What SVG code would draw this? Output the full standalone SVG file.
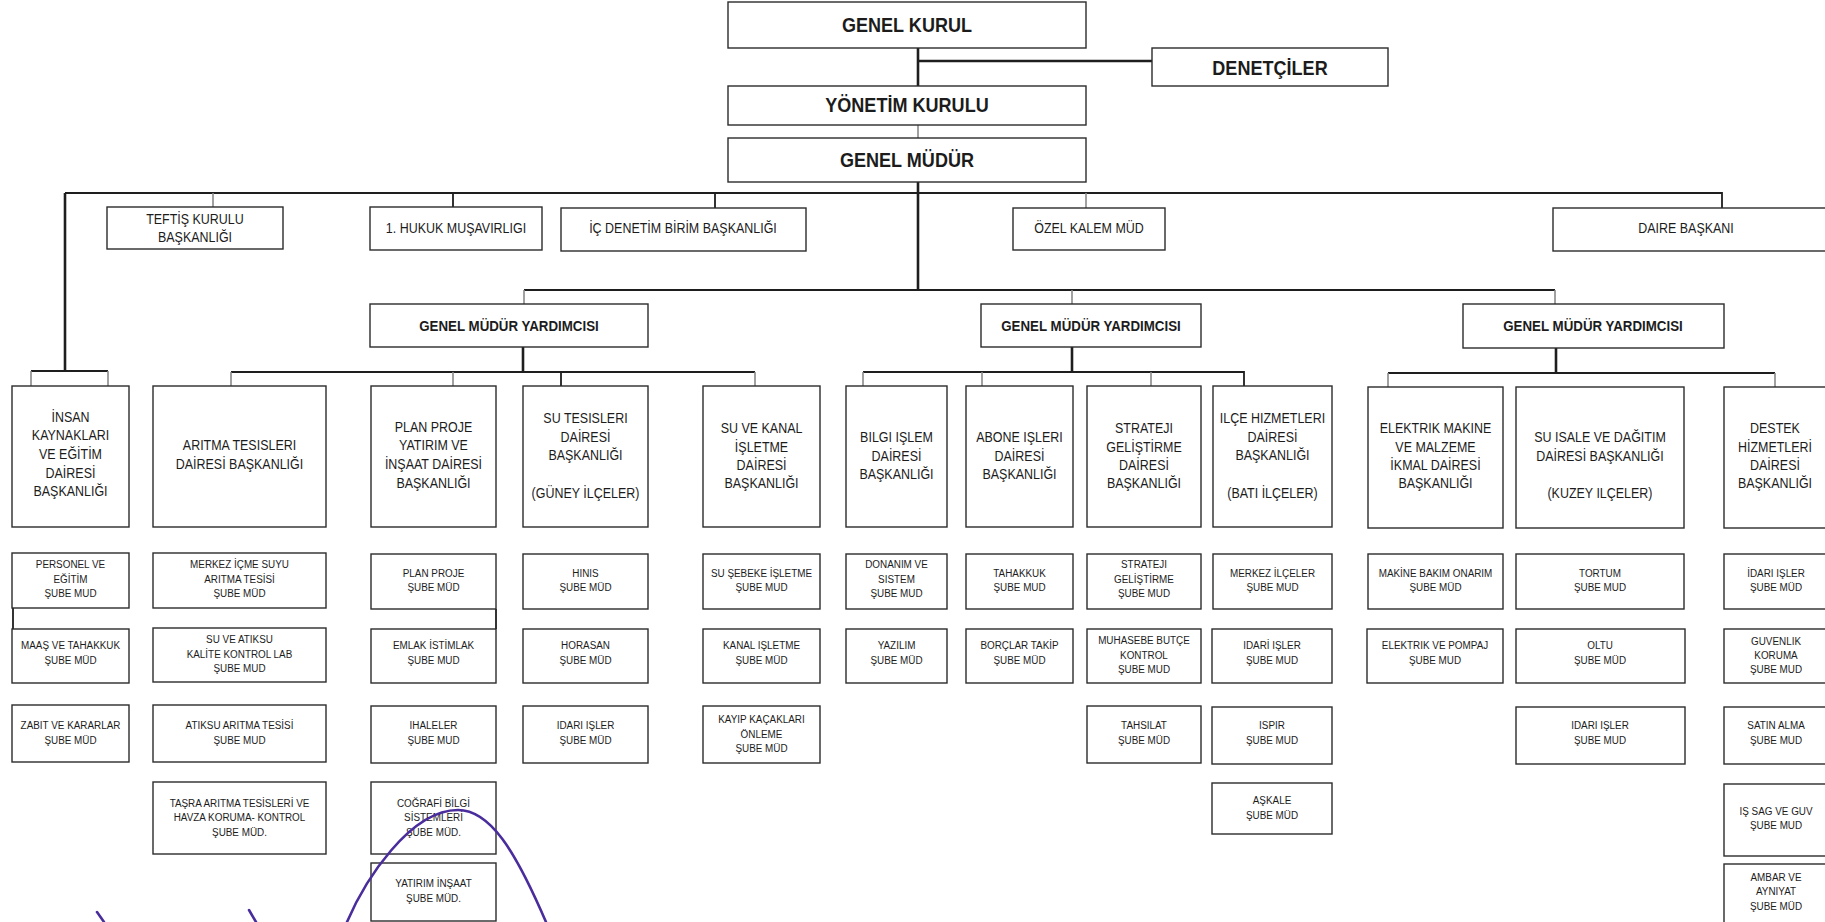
<svg xmlns="http://www.w3.org/2000/svg" width="1825" height="922" viewBox="0 0 1825 922">
<style>
.box{fill:#fff;stroke:#2b2b2b;stroke-width:1.4}
.ln{stroke:#1e1e1e;stroke-width:1.8;fill:none}
.lk{stroke:#1e1e1e;stroke-width:2.6;fill:none}
.tk{stroke:#8a8a8a;stroke-width:1.6;fill:none}
.sig{stroke:#4a2d9c;stroke-width:2.6;fill:none;stroke-linecap:round}
text{font-family:"Liberation Sans",Arial,sans-serif;fill:#1c1c1c;text-anchor:middle;transform-box:fill-box;transform-origin:center;transform:scaleX(0.86)}
.h1{font-size:21px;font-weight:bold}
.h2{font-size:14.5px}
.gm{font-size:15.5px;font-weight:bold}
.d{font-size:14.5px}
.s{font-size:11.5px}
</style>

<g id="connectors">
  <path class="lk" d="M918 48V86"/>
  <path class="lk" d="M918 61H1152"/>
  <path class="tk" d="M918 125V138"/>
  <path class="lk" d="M918 182V290"/>
  <path class="ln" d="M65 193H1722V208"/>
  <path class="lk" d="M65 193V371"/>
  <path class="ln" d="M31 371H108"/>
  <path class="tk" d="M31 371V386M108 371V386"/>
  <path class="tk" d="M213 193V207M1086 193V208"/>
  <path class="ln" d="M453 193V207M715 193V208"/>
  <path class="ln" d="M524 290H1555"/>
  <path class="tk" d="M524 290V304M1072 290V304M1555 290V304"/>
  <path class="lk" d="M523 347V372"/>
  <path class="ln" d="M231 372H755"/>
  <path class="tk" d="M231 372V386M453 372V386M755 372V386"/>
  <path class="ln" d="M561 372V386"/>
  <path class="lk" d="M1072 347V372"/>
  <path class="ln" d="M863 372H1244V386"/>
  <path class="tk" d="M863 372V386M982 372V386M1151 372V386"/>
  <path class="lk" d="M1556 348V373"/>
  <path class="ln" d="M1388 373H1775"/>
  <path class="tk" d="M1388 373V387M1775 373V387"/>
  <path class="ln" d="M13 608V629"/>
  <path class="ln" d="M496 609V629"/>
</g>

<g id="genel-kurul"><rect class="box" x="728" y="2" width="358" height="46"/><text class="h1" x="907" y="32">GENEL KURUL</text></g>
<g id="denetciler"><rect class="box" x="1152" y="48" width="236" height="38"/><text class="h1" x="1270" y="75">DENETÇİLER</text></g>
<g id="yonetim-kurulu"><rect class="box" x="728" y="86" width="358" height="39"/><text class="h1" x="907" y="112">YÖNETİM KURULU</text></g>
<g id="genel-mudur"><rect class="box" x="728" y="138" width="358" height="44"/><text class="h1" x="907" y="167">GENEL MÜDÜR</text></g>

<g id="teftis"><rect class="box" x="107" y="207" width="176" height="42"/><text class="h2" x="195"><tspan x="195" y="224">TEFTİŞ KURULU</tspan><tspan x="195" y="242">BAŞKANLIĞI</tspan></text></g>
<g id="hukuk"><rect class="box" x="370" y="207" width="172" height="43"/><text class="h2" x="456" y="233">1. HUKUK MUŞAVIRLIGI</text></g>
<g id="ic-denetim"><rect class="box" x="561" y="208" width="245" height="43"/><text class="h2" x="683" y="233">İÇ DENETİM BİRİM BAŞKANLIĞI</text></g>
<g id="ozel-kalem"><rect class="box" x="1013" y="208" width="152" height="42"/><text class="h2" x="1089" y="233">ÖZEL KALEM MÜD</text></g>
<g id="daire-baskani"><rect class="box" x="1553" y="208" width="280" height="43"/><text class="h2" x="1686" y="233">DAIRE BAŞKANI</text></g>

<g id="gmy1"><rect class="box" x="370" y="304" width="278" height="43"/><text class="gm" x="509" y="331">GENEL MÜDÜR YARDIMCISI</text></g>
<g id="gmy2"><rect class="box" x="981" y="304" width="220" height="43"/><text class="gm" x="1091" y="331">GENEL MÜDÜR YARDIMCISI</text></g>
<g id="gmy3"><rect class="box" x="1463" y="304" width="261" height="44"/><text class="gm" x="1593" y="331">GENEL MÜDÜR YARDIMCISI</text></g>

<g id="insan"><rect class="box" x="12" y="386" width="117" height="141"/><text class="d"><tspan x="70.5" y="422">İNSAN</tspan><tspan x="70.5" y="440">KAYNAKLARI</tspan><tspan x="70.5" y="459">VE EĞİTİM</tspan><tspan x="70.5" y="478">DAİRESİ</tspan><tspan x="70.5" y="496">BAŞKANLIĞI</tspan></text></g>
<g id="aritma"><rect class="box" x="153" y="386" width="173" height="141"/><text class="d"><tspan x="239.5" y="450">ARITMA TESISLERI</tspan><tspan x="239.5" y="469">DAİRESİ BAŞKANLIĞI</tspan></text></g>
<g id="plan-proje"><rect class="box" x="371" y="386" width="125" height="141"/><text class="d"><tspan x="433.5" y="432">PLAN PROJE</tspan><tspan x="433.5" y="450">YATIRIM VE</tspan><tspan x="433.5" y="469">İNŞAAT DAİRESİ</tspan><tspan x="433.5" y="488">BAŞKANLIĞI</tspan></text></g>
<g id="su-tesisleri"><rect class="box" x="523" y="386" width="125" height="141"/><text class="d"><tspan x="585.5" y="423">SU TESISLERI</tspan><tspan x="585.5" y="442">DAİRESİ</tspan><tspan x="585.5" y="460">BAŞKANLIĞI</tspan><tspan x="585.5" y="498">(GÜNEY İLÇELER)</tspan></text></g>
<g id="su-kanal"><rect class="box" x="703" y="386" width="117" height="141"/><text class="d"><tspan x="761.5" y="433">SU VE KANAL</tspan><tspan x="761.5" y="452">İŞLETME</tspan><tspan x="761.5" y="470">DAİRESİ</tspan><tspan x="761.5" y="488">BAŞKANLIĞI</tspan></text></g>
<g id="bilgi-islem"><rect class="box" x="846" y="386" width="101" height="141"/><text class="d"><tspan x="896.5" y="442">BILGI IŞLEM</tspan><tspan x="896.5" y="461">DAİRESİ</tspan><tspan x="896.5" y="479">BAŞKANLIĞI</tspan></text></g>
<g id="abone"><rect class="box" x="966" y="386" width="107" height="141"/><text class="d"><tspan x="1019.5" y="442">ABONE IŞLERI</tspan><tspan x="1019.5" y="461">DAİRESİ</tspan><tspan x="1019.5" y="479">BAŞKANLIĞI</tspan></text></g>
<g id="strateji"><rect class="box" x="1087" y="386" width="114" height="141"/><text class="d"><tspan x="1144" y="433">STRATEJI</tspan><tspan x="1144" y="452">GELİŞTİRME</tspan><tspan x="1144" y="470">DAİRESİ</tspan><tspan x="1144" y="488">BAŞKANLIĞI</tspan></text></g>
<g id="ilce"><rect class="box" x="1213" y="386" width="119" height="141"/><text class="d"><tspan x="1272.5" y="423">ILÇE HIZMETLERI</tspan><tspan x="1272.5" y="442">DAİRESİ</tspan><tspan x="1272.5" y="460">BAŞKANLIĞI</tspan><tspan x="1272.5" y="498">(BATI İLÇELER)</tspan></text></g>
<g id="elektrik"><rect class="box" x="1368" y="387" width="135" height="141"/><text class="d"><tspan x="1435.5" y="433">ELEKTRIK MAKINE</tspan><tspan x="1435.5" y="452">VE MALZEME</tspan><tspan x="1435.5" y="470">İKMAL  DAİRESİ</tspan><tspan x="1435.5" y="488">BAŞKANLIĞI</tspan></text></g>
<g id="su-isale"><rect class="box" x="1516" y="387" width="168" height="141"/><text class="d"><tspan x="1600" y="442">SU ISALE VE DAĞITIM</tspan><tspan x="1600" y="461">DAİRESİ BAŞKANLIĞI</tspan><tspan x="1600" y="498">(KUZEY ILÇELER)</tspan></text></g>
<g id="destek"><rect class="box" x="1724" y="387" width="106" height="141"/><text class="d"><tspan x="1775" y="433">DESTEK</tspan><tspan x="1775" y="452">HİZMETLERİ</tspan><tspan x="1775" y="470">DAİRESİ</tspan><tspan x="1775" y="488">BAŞKANLIĞI</tspan></text></g>

<g id="personel"><rect class="box" x="12" y="553" width="117" height="55"/><text class="s"><tspan x="70.5" y="568">PERSONEL VE</tspan><tspan x="70.5" y="583">EĞİTİM</tspan><tspan x="70.5" y="597">ŞUBE MUD</tspan></text></g>
<g id="maas"><rect class="box" x="12" y="629" width="117" height="54"/><text class="s"><tspan x="70.5" y="649">MAAŞ VE TAHAKKUK</tspan><tspan x="70.5" y="664">ŞUBE MÜD</tspan></text></g>
<g id="zabit"><rect class="box" x="12" y="705" width="117" height="57"/><text class="s"><tspan x="70.5" y="729">ZABIT VE KARARLAR</tspan><tspan x="70.5" y="744">ŞUBE MÜD</tspan></text></g>

<g id="merkez-icme"><rect class="box" x="153" y="553" width="173" height="55"/><text class="s"><tspan x="239.5" y="568">MERKEZ İÇME SUYU</tspan><tspan x="239.5" y="583">ARITMA TESİSİ</tspan><tspan x="239.5" y="597">ŞUBE MÜD</tspan></text></g>
<g id="kalite"><rect class="box" x="153" y="628" width="173" height="54"/><text class="s"><tspan x="239.5" y="643">SU VE ATIKSU</tspan><tspan x="239.5" y="658">KALİTE KONTROL LAB</tspan><tspan x="239.5" y="672">ŞUBE MUD</tspan></text></g>
<g id="atiksu"><rect class="box" x="153" y="705" width="173" height="57"/><text class="s"><tspan x="239.5" y="729">ATIKSU ARITMA TESİSİ</tspan><tspan x="239.5" y="744">ŞUBE  MUD</tspan></text></g>
<g id="tasra"><rect class="box" x="153" y="782" width="173" height="72"/><text class="s"><tspan x="239.5" y="807">TAŞRA  ARITMA TESİSLERİ VE</tspan><tspan x="239.5" y="821">HAVZA KORUMA- KONTROL</tspan><tspan x="239.5" y="836">ŞUBE MÜD.</tspan></text></g>

<g id="plan-proje-sube"><rect class="box" x="371" y="554" width="125" height="55"/><text class="s"><tspan x="433.5" y="577">PLAN PROJE</tspan><tspan x="433.5" y="591">ŞUBE MÜD</tspan></text></g>
<g id="emlak"><rect class="box" x="371" y="629" width="125" height="54"/><text class="s"><tspan x="433.5" y="649">EMLAK İSTİMLAK</tspan><tspan x="433.5" y="664">ŞUBE MUD</tspan></text></g>
<g id="ihaleler"><rect class="box" x="371" y="706" width="125" height="57"/><text class="s"><tspan x="433.5" y="729">IHALELER</tspan><tspan x="433.5" y="744">ŞUBE MUD</tspan></text></g>
<g id="cografi"><rect class="box" x="371" y="782" width="125" height="72"/><text class="s"><tspan x="433.5" y="807">COĞRAFİ BİLGİ</tspan><tspan x="433.5" y="821">SİSTEMLERİ</tspan><tspan x="433.5" y="836">ŞUBE MÜD.</tspan></text></g>
<g id="yatirim"><rect class="box" x="371" y="863" width="125" height="58"/><text class="s"><tspan x="433.5" y="887">YATIRIM İNŞAAT</tspan><tspan x="433.5" y="902">ŞUBE MÜD.</tspan></text></g>

<g id="hinis"><rect class="box" x="523" y="554" width="125" height="55"/><text class="s"><tspan x="585.5" y="577">HINIS</tspan><tspan x="585.5" y="591">ŞUBE MÜD</tspan></text></g>
<g id="horasan"><rect class="box" x="523" y="629" width="125" height="54"/><text class="s"><tspan x="585.5" y="649">HORASAN</tspan><tspan x="585.5" y="664">ŞUBE MÜD</tspan></text></g>
<g id="idari-su-tes"><rect class="box" x="523" y="706" width="125" height="57"/><text class="s"><tspan x="585.5" y="729">IDARI IŞLER</tspan><tspan x="585.5" y="744">ŞUBE MÜD</tspan></text></g>

<g id="su-sebeke"><rect class="box" x="703" y="554" width="117" height="55"/><text class="s"><tspan x="761.5" y="577">SU ŞEBEKE İŞLETME</tspan><tspan x="761.5" y="591">ŞUBE MUD</tspan></text></g>
<g id="kanal"><rect class="box" x="703" y="629" width="117" height="54"/><text class="s"><tspan x="761.5" y="649">KANAL IŞLETME</tspan><tspan x="761.5" y="664">ŞUBE  MÜD</tspan></text></g>
<g id="kayip"><rect class="box" x="703" y="706" width="117" height="57"/><text class="s"><tspan x="761.5" y="723">KAYIP KAÇAKLARI</tspan><tspan x="761.5" y="738">ÖNLEME</tspan><tspan x="761.5" y="752">ŞUBE MÜD</tspan></text></g>

<g id="donanim"><rect class="box" x="846" y="554" width="101" height="55"/><text class="s"><tspan x="896.5" y="568">DONANIM VE</tspan><tspan x="896.5" y="583">SISTEM</tspan><tspan x="896.5" y="597">ŞUBE MUD</tspan></text></g>
<g id="yazilim"><rect class="box" x="846" y="629" width="101" height="54"/><text class="s"><tspan x="896.5" y="649">YAZILIM</tspan><tspan x="896.5" y="664">ŞUBE MÜD</tspan></text></g>

<g id="tahakkuk"><rect class="box" x="966" y="554" width="107" height="55"/><text class="s"><tspan x="1019.5" y="577">TAHAKKUK</tspan><tspan x="1019.5" y="591">ŞUBE MUD</tspan></text></g>
<g id="borclar"><rect class="box" x="966" y="629" width="107" height="54"/><text class="s"><tspan x="1019.5" y="649">BORÇLAR TAKİP</tspan><tspan x="1019.5" y="664">ŞUBE MÜD</tspan></text></g>

<g id="strateji-sube"><rect class="box" x="1087" y="554" width="114" height="55"/><text class="s"><tspan x="1144" y="568">STRATEJI</tspan><tspan x="1144" y="583">GELİŞTİRME</tspan><tspan x="1144" y="597">ŞUBE MUD</tspan></text></g>
<g id="muhasebe"><rect class="box" x="1087" y="629" width="114" height="54"/><text class="s"><tspan x="1144" y="644">MUHASEBE BUTÇE</tspan><tspan x="1144" y="659">KONTROL</tspan><tspan x="1144" y="673">ŞUBE MUD</tspan></text></g>
<g id="tahsilat"><rect class="box" x="1087" y="706" width="114" height="57"/><text class="s"><tspan x="1144" y="729">TAHSILAT</tspan><tspan x="1144" y="744">ŞUBE MÜD</tspan></text></g>

<g id="merkez-ilceler"><rect class="box" x="1213" y="554" width="119" height="55"/><text class="s"><tspan x="1272.5" y="577">MERKEZ İLÇELER</tspan><tspan x="1272.5" y="591">ŞUBE MUD</tspan></text></g>
<g id="idari-ilce"><rect class="box" x="1212" y="629" width="120" height="54"/><text class="s"><tspan x="1272" y="649">IDARİ IŞLER</tspan><tspan x="1272" y="664">ŞUBE MUD</tspan></text></g>
<g id="ispir"><rect class="box" x="1212" y="707" width="120" height="57"/><text class="s"><tspan x="1272" y="729">ISPIR</tspan><tspan x="1272" y="744">ŞUBE MUD</tspan></text></g>
<g id="askale"><rect class="box" x="1212" y="783" width="120" height="51"/><text class="s"><tspan x="1272" y="804">AŞKALE</tspan><tspan x="1272" y="819">ŞUBE MÜD</tspan></text></g>

<g id="makine-bakim"><rect class="box" x="1368" y="554" width="135" height="55"/><text class="s"><tspan x="1435.5" y="577">MAKİNE BAKIM ONARIM</tspan><tspan x="1435.5" y="591">ŞUBE MÜD</tspan></text></g>
<g id="elektrik-pompaj"><rect class="box" x="1367" y="629" width="136" height="54"/><text class="s"><tspan x="1435" y="649">ELEKTRIK VE POMPAJ</tspan><tspan x="1435" y="664">ŞUBE MUD</tspan></text></g>

<g id="tortum"><rect class="box" x="1516" y="554" width="168" height="55"/><text class="s"><tspan x="1600" y="577">TORTUM</tspan><tspan x="1600" y="591">ŞUBE MUD</tspan></text></g>
<g id="oltu"><rect class="box" x="1516" y="629" width="169" height="54"/><text class="s"><tspan x="1600" y="649">OLTU</tspan><tspan x="1600" y="664">ŞUBE MÜD</tspan></text></g>
<g id="idari-su-isale"><rect class="box" x="1516" y="707" width="169" height="57"/><text class="s"><tspan x="1600" y="729">IDARI IŞLER</tspan><tspan x="1600" y="744">ŞUBE MUD</tspan></text></g>

<g id="idari-destek"><rect class="box" x="1724" y="554" width="106" height="55"/><text class="s"><tspan x="1776" y="577">İDARI IŞLER</tspan><tspan x="1776" y="591">ŞUBE MÜD</tspan></text></g>
<g id="guvenlik"><rect class="box" x="1724" y="629" width="106" height="54"/><text class="s"><tspan x="1776" y="645">GUVENLIK</tspan><tspan x="1776" y="659">KORUMA</tspan><tspan x="1776" y="673">ŞUBE MUD</tspan></text></g>
<g id="satin-alma"><rect class="box" x="1724" y="707" width="106" height="57"/><text class="s"><tspan x="1776" y="729">SATIN ALMA</tspan><tspan x="1776" y="744">ŞUBE MUD</tspan></text></g>
<g id="is-sag"><rect class="box" x="1724" y="784" width="106" height="72"/><text class="s"><tspan x="1776" y="815">IŞ SAG  VE GUV</tspan><tspan x="1776" y="829">ŞUBE MUD</tspan></text></g>
<g id="ambar"><rect class="box" x="1724" y="864" width="106" height="62"/><text class="s"><tspan x="1776" y="881">AMBAR VE</tspan><tspan x="1776" y="895">AYNIYAT</tspan><tspan x="1776" y="910">ŞUBE MÜD</tspan></text></g>

<g id="signature">
  <path class="sig" d="M347 922C365 880 410 810 458 810C490 810 515 850 546 922"/>
  <path class="sig" d="M97 912L104 922"/>
  <path class="sig" d="M249 910L256 922"/>
</g>
</svg>
